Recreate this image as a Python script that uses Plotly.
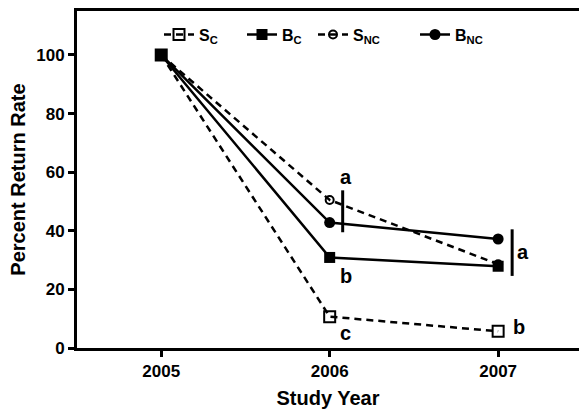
import plotly.graph_objects as go

years = [2005, 2006, 2007]
s_c = [100, 10.7, 5.7]
b_c = [100, 30.9, 27.9]
s_nc = [100, 50.5, 28.6]
b_nc = [100, 42.8, 37.2]

y_ticks = [0, 20, 40, 60, 80, 100]
x_ticks = [2005, 2006, 2007]

FONT = "Liberation Sans, Arial, sans-serif"
BLACK = "#000000"

fig = go.Figure()

dash_pat = "7px,5px"
fig.add_trace(go.Scatter(
    x=years, y=s_c, name="<b>S<sub>C</sub></b>", mode="lines+markers", legend="legend",
    line=dict(color=BLACK, width=2.5, dash=dash_pat),
    marker=dict(symbol="square-open", size=11, color=BLACK, line=dict(width=2, color=BLACK))))
fig.add_trace(go.Scatter(
    x=years, y=b_c, name="<b>B<sub>C</sub></b>", mode="lines+markers", legend="legend2",
    line=dict(color=BLACK, width=2.5),
    marker=dict(symbol="square", size=11, color=BLACK)))
fig.add_trace(go.Scatter(
    x=years, y=s_nc, name="<b>S<sub>NC</sub></b>", mode="lines+markers", legend="legend3",
    line=dict(color=BLACK, width=2.5, dash=dash_pat),
    marker=dict(symbol="circle-open", size=8, color=BLACK, line=dict(width=2, color=BLACK))))
fig.add_trace(go.Scatter(
    x=years, y=b_nc, name="<b>B<sub>NC</sub></b>", mode="lines+markers", legend="legend4",
    line=dict(color=BLACK, width=2.5),
    marker=dict(symbol="circle", size=11, color=BLACK)))

# significance bars (anchored at year, offset in pixels)
pad = 3.3
g2006 = [s_nc[1], b_nc[1]]
g2007 = [b_nc[2], s_nc[2], b_c[2]]
for yr, grp, off in [(2006, g2006, 13), (2007, g2007, 14)]:
    fig.add_shape(type="line", xref="x", yref="y", xsizemode="pixel", xanchor=yr,
                  x0=off, x1=off, y0=min(grp) - pad, y1=max(grp) + pad,
                  line=dict(color=BLACK, width=3))

ann_font = dict(family=FONT, size=20, color=BLACK)
def letter(txt, x, y, dx, dy):
    fig.add_annotation(x=x, y=y, text="<b>%s</b>" % txt, showarrow=False,
                       xshift=dx, yshift=dy, font=ann_font)

letter("a", 2006, s_nc[1], 16, 23)
letter("b", 2006, b_c[1], 16, -19)
letter("c", 2006, s_c[1], 16, -16)
letter("a", 2007, (min(g2007) + max(g2007)) / 2, 25, 1)
letter("b", 2007, s_c[2], 21, 4)

axis_common = dict(showline=True, linecolor=BLACK, linewidth=3, ticks="outside",
                   tickwidth=3, ticklen=6, tickcolor=BLACK, showgrid=False, zeroline=False,
                   tickfont=dict(family=FONT, size=17, color=BLACK))

plot_left, plot_w = 77, 502
def lx(px):
    return (px - plot_left) / plot_w

leg_common = dict(orientation="h", xanchor="left", y=0.93, yanchor="middle",
                  font=dict(family=FONT, size=16, color=BLACK), bgcolor="rgba(0,0,0,0)",
                  itemwidth=30)

fig.update_layout(
    width=579, height=409,
    margin=dict(l=77, r=0, t=11, b=61),
    paper_bgcolor="white", plot_bgcolor="white",
    font=dict(family=FONT, color=BLACK),
    showlegend=True,
    legend=dict(x=lx(159), **leg_common),
    legend2=dict(x=lx(242), **leg_common),
    legend3=dict(x=lx(313), **leg_common),
    legend4=dict(x=lx(415), **leg_common),
    xaxis=dict(range=[2004.5, 2007.48], tickvals=x_ticks, ticktext=["<b>%d</b>" % v for v in x_ticks],
               mirror=True,
               title=dict(text="<b>Study Year</b>", font=dict(family=FONT, size=20, color=BLACK), standoff=12),
               **axis_common),
    yaxis=dict(range=[0, 115], tickvals=y_ticks, ticktext=["<b>%d</b>" % v for v in y_ticks],
               title=dict(text="<b>Percent Return Rate</b>", font=dict(family=FONT, size=20, color=BLACK), standoff=6),
               **axis_common),
)

fig.write_html("out.html")
